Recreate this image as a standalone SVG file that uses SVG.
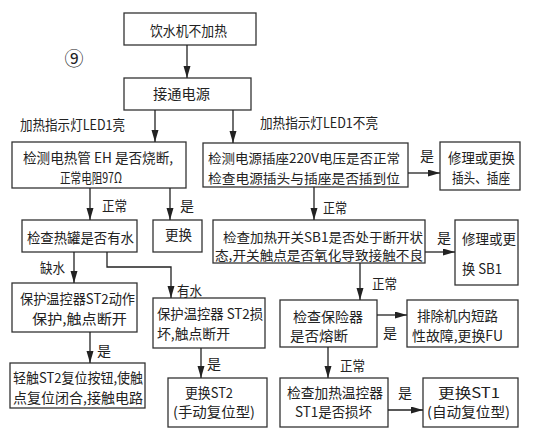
<svg xmlns="http://www.w3.org/2000/svg" width="533" height="434" viewBox="0 0 533 434">
<defs>
<marker id="ah" markerUnits="userSpaceOnUse" markerWidth="13" markerHeight="8" refX="12" refY="3.5" orient="auto">
<path d="M0,0 L12,3.5 L0,7 z" fill="#222"/>
</marker>
</defs>
<style>
.box{fill:#fff;stroke:#333;stroke-width:1.3}
.t{font-family:"Noto Sans CJK SC","Noto Sans",sans-serif;font-size:14px;fill:#222;dominant-baseline:central}
.s{font-size:13px}
.c{fill:none;stroke:#222;stroke-width:1.3;marker-end:url(#ah)}
</style>
<rect width="533" height="434" fill="#fff"/>
<g id="num">
<text class="t" x="74" y="57" text-anchor="middle" style="font-size:19px">⑨</text>
</g>
<g id="n1"><rect class="box" x="124" y="13" width="132" height="32"/><text class="t" x="150" y="30" textLength="77" lengthAdjust="spacingAndGlyphs">饮水机不加热</text></g>
<g id="n2"><rect class="box" x="124" y="78" width="127" height="32"/><text class="t" x="153" y="93" textLength="57" lengthAdjust="spacingAndGlyphs">接通电源</text></g>
<g id="lblL"><text class="t" x="20" y="124" textLength="105" lengthAdjust="spacingAndGlyphs">加热指示灯LED1亮</text></g>
<g id="lblR"><text class="t" x="260" y="122" textLength="118" lengthAdjust="spacingAndGlyphs">加热指示灯LED1不亮</text></g>
<g id="n3"><rect class="box" x="12" y="142" width="174" height="46"/><text class="t" x="23" y="157" textLength="150" lengthAdjust="spacingAndGlyphs">检测电热管 EH 是否烧断,</text><text class="t" x="60" y="177" textLength="62" lengthAdjust="spacingAndGlyphs">正常电阻97Ω</text></g>
<g id="n4"><rect class="box" x="203" y="143" width="205" height="44"/><text class="t s" x="208" y="157" textLength="192" lengthAdjust="spacingAndGlyphs">检测电源插座220V电压是否正常</text><text class="t s" x="208" y="177" textLength="192" lengthAdjust="spacingAndGlyphs">检查电源插头与插座是否插到位</text></g>
<g id="n5"><rect class="box" x="440" y="142" width="80" height="48"/><text class="t" x="448" y="157" textLength="67" lengthAdjust="spacingAndGlyphs">修理或更换</text><text class="t" x="452" y="177" textLength="58" lengthAdjust="spacingAndGlyphs">插头、插座</text></g>
<g id="n6"><rect class="box" x="22" y="220" width="115" height="32"/><text class="t" x="27" y="237" textLength="107" lengthAdjust="spacingAndGlyphs">检查热罐是否有水</text></g>
<g id="n7"><rect class="box" x="153" y="220" width="49" height="32"/><text class="t" x="165" y="234" textLength="27" lengthAdjust="spacingAndGlyphs">更换</text></g>
<g id="n8"><rect class="box" x="213" y="220" width="212" height="43"/><text class="t s" x="223" y="236" textLength="200" lengthAdjust="spacingAndGlyphs">检查加热开关SB1是否处于断开状</text><text class="t s" x="215" y="254" textLength="208" lengthAdjust="spacingAndGlyphs">态,开关触点是否氧化导致接触不良</text></g>
<g id="n9"><rect class="box" x="455" y="220" width="63" height="65"/><text class="t" x="462" y="238" textLength="54" lengthAdjust="spacingAndGlyphs">修理或更</text><text class="t" x="462" y="268" textLength="40" lengthAdjust="spacingAndGlyphs">换 SB1</text></g>
<g id="n10"><rect class="box" x="12" y="283" width="125" height="49"/><text class="t" x="20" y="298" textLength="115" lengthAdjust="spacingAndGlyphs">保护温控器ST2动作</text><text class="t" x="32" y="318" textLength="95" lengthAdjust="spacingAndGlyphs">保护,触点断开</text></g>
<g id="n11"><rect class="box" x="153" y="298" width="112" height="50"/><text class="t" x="157" y="313" textLength="106" lengthAdjust="spacingAndGlyphs">保护温控器 ST2损</text><text class="t" x="157" y="333" textLength="73" lengthAdjust="spacingAndGlyphs">坏,触点断开</text></g>
<g id="n12"><rect class="box" x="280" y="300" width="97" height="47"/><text class="t" x="293" y="316" textLength="70" lengthAdjust="spacingAndGlyphs">检查保险器</text><text class="t" x="290" y="335" textLength="58" lengthAdjust="spacingAndGlyphs">是否熔断</text></g>
<g id="n13"><rect class="box" x="407" y="300" width="111" height="47"/><text class="t" x="417" y="315" textLength="81" lengthAdjust="spacingAndGlyphs">排除机内短路</text><text class="t" x="412" y="335" textLength="91" lengthAdjust="spacingAndGlyphs">性故障,更换FU</text></g>
<g id="n14"><rect class="box" x="10" y="363" width="135" height="45"/><text class="t" x="13" y="377" textLength="130" lengthAdjust="spacingAndGlyphs">轻触ST2复位按钮,使触</text><text class="t" x="13" y="397" textLength="130" lengthAdjust="spacingAndGlyphs">点复位闭合,接触电路</text></g>
<g id="n15"><rect class="box" x="168" y="378" width="99" height="49"/><text class="t" x="185" y="392" textLength="48" lengthAdjust="spacingAndGlyphs">更换ST2</text><text class="t" x="173" y="411" textLength="82" lengthAdjust="spacingAndGlyphs">(手动复位型)</text></g>
<g id="n16"><rect class="box" x="280" y="378" width="108" height="49"/><text class="t" x="287" y="392" textLength="96" lengthAdjust="spacingAndGlyphs">检查加热温控器</text><text class="t" x="295" y="411" textLength="77" lengthAdjust="spacingAndGlyphs">ST1是否损坏</text></g>
<g id="n17"><rect class="box" x="423" y="378" width="95" height="49"/><text class="t" x="438" y="392" textLength="62" lengthAdjust="spacingAndGlyphs">更换ST1</text><text class="t" x="427" y="411" textLength="83" lengthAdjust="spacingAndGlyphs">(自动复位型)</text></g>
<g id="connectors">
<path class="c" d="M187,45 V78"/>
<path class="c" d="M155,110 V142"/>
<path class="c" d="M233,110 V143"/>
<path class="c" d="M408,173 H440"/>
<path class="c" d="M314,187 V220"/>
<path class="c" d="M425,252 H455"/>
<path class="c" d="M90,188 V220"/>
<path class="c" d="M170,188 V220"/>
<path class="c" d="M74,252 V283"/>
<path class="c" d="M107,252 V267 H171 V298"/>
<path class="c" d="M90,332 V363"/>
<path class="c" d="M201,348 V378"/>
<path class="c" d="M360,263 V300"/>
<path class="c" d="M377,315 H407"/>
<path class="c" d="M328,347 V378"/>
<path class="c" d="M388,410 H423"/>
</g>
<g id="labels">
<text class="t" x="102" y="205" textLength="25" lengthAdjust="spacingAndGlyphs">正常</text>
<text class="t" x="180" y="205">是</text>
<text class="t" x="420" y="155">是</text>
<text class="t" x="323" y="207" textLength="24" lengthAdjust="spacingAndGlyphs">正常</text>
<text class="t" x="437" y="237">是</text>
<text class="t" x="40" y="267" textLength="25" lengthAdjust="spacingAndGlyphs">缺水</text>
<text class="t" x="177" y="290" textLength="25" lengthAdjust="spacingAndGlyphs">有水</text>
<text class="t" x="97" y="350">是</text>
<text class="t" x="207" y="363">是</text>
<text class="t" x="372" y="283" textLength="25" lengthAdjust="spacingAndGlyphs">正常</text>
<text class="t" x="383" y="332">是</text>
<text class="t" x="340" y="365" textLength="25" lengthAdjust="spacingAndGlyphs">正常</text>
<text class="t" x="398" y="392">是</text>
</g>
</svg>
